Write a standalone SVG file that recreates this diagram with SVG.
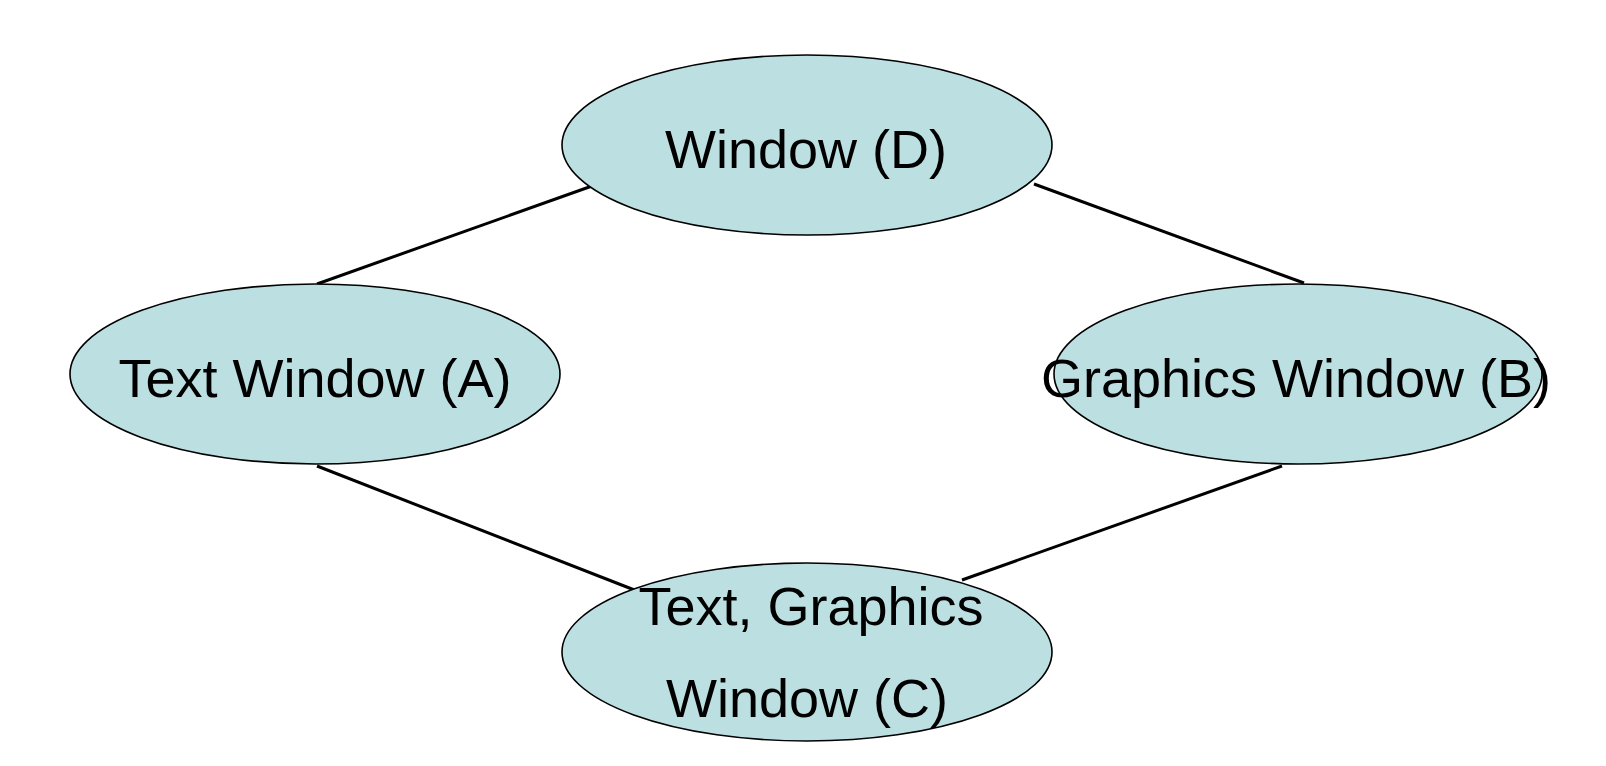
<svg xmlns="http://www.w3.org/2000/svg" width="1606" height="766" viewBox="0 0 1606 766">
<style>
.n{fill:#bcdfe1;stroke:#000;stroke-width:1.6}
.t{font-family:"Liberation Sans",Arial,sans-serif;font-size:54px;fill:#000;text-anchor:middle}
.c line{stroke:#000;stroke-width:3}
</style>
<rect width="1606" height="766" fill="#fff"/>
<g id="connectors" class="c">
<line x1="592" y1="186" x2="317" y2="284"/>
<line x1="1034" y1="184" x2="1304" y2="283"/>
<line x1="317" y1="466" x2="637" y2="591"/>
<line x1="1282" y1="466" x2="962" y2="580"/>
</g>
<g id="nodeD"><ellipse class="n" cx="807" cy="145" rx="245" ry="90"/><text class="t" x="806" y="168">Window (D)</text></g>
<g id="nodeA"><ellipse class="n" cx="315" cy="374" rx="245" ry="90"/><text class="t" x="315" y="397">Text Window (A)</text></g>
<g id="nodeB"><ellipse class="n" cx="1298" cy="374" rx="244" ry="90"/><text class="t" x="1296" y="397">Graphics Window (B)</text></g>
<g id="nodeC"><ellipse class="n" cx="807" cy="652" rx="245" ry="89"/><text class="t" x="811" y="625">Text, Graphics</text><text class="t" x="807" y="717">Window (C)</text></g>
</svg>
